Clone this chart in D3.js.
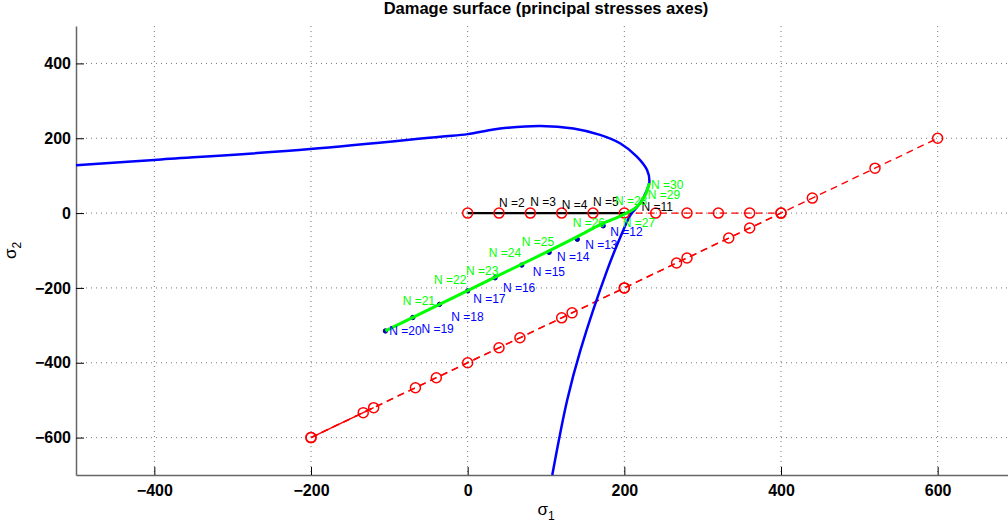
<!DOCTYPE html>
<html>
<head>
<meta charset="utf-8">
<script src="https://cdn.jsdelivr.net/npm/d3@7"></script>
<style>
  body { margin: 0; background: #fff; }
  svg { font-family: "Liberation Sans", Arial, Helvetica, sans-serif; }
</style>
</head>
<body>
<script>
// Tick values
const xTicks = [-400, -200, 0, 200, 400, 600];
const yTicks = [-600, -400, -200, 0, 200, 400];

// Damage surface (blue)
const surfSig1 = [-500, -400, -201, -35, 0, 29, 50, 93, 135, 169, 195, 216, 229, 232, 229, 220, 208, 195, 178, 144, 127, 108];
const surfSig2 = [128, 142, 171, 204, 211, 222, 228, 233, 226, 209, 186, 151, 115, 84, 62, 26, -5, -64, -153, -366, -500, -700];

// Loading paths (red, dashed)
const axisSig1 = [0, 40, 80, 120, 160, 200, 240, 280, 320, 360, 400];
const axisSig2 = [0, 0, 0, 0, 0, 0, 0, 0, 0, 0, 0];
const diagASig1 = [-200, -120, -40, 40, 120, 200, 280, 360, 440, 520, 600];
const diagASig2 = [-600, -520, -440, -360, -280, -200, -120, -40, 40, 120, 200];
const diagBSig1 = [-200, -133.3, -66.7, 0, 66.7, 133.3, 200, 266.7, 333.3, 400];
const diagBSig2 = [-600, -533.3, -466.7, -400, -333.3, -266.7, -200, -133.3, -66.7, 0];
const startSig1 = [-200, -120];
const startSig2 = [-600, -520];

// Stress history (black, then blue dots, then green)
const blackSig1 = [0, 40, 80, 120, 160, 200, 208];
const blackSig2 = [0, 0, 0, 0, 0, 0, 0];
const dotSig1 = [173, 140, 104, 69, 35, 0, -36, -70, -105];
const dotSig2 = [-34, -70, -105, -139, -173, -208, -244, -279, -315];
const greenSig1 = [-105, 0, 100, 140, 170, 195, 215, 226, 232];
const greenSig2 = [-315, -207, -105, -63, -30, -8, 15, 45, 80];

// Step labels
const blackLabels = ["N =2", "N =3", "N =4", "N =5", "N =11"];
const blackLabX = [40, 80, 120, 160, 222];
const blackLabY = [28, 29, 23, 29, 16];
const blueLabels = ["N =12", "N =13", "N =14", "N =15", "N =16", "N =17", "N =18", "N =19", "N =20"];
const blueLabX = [182, 150, 114, 83, 45, 7, -21, -59, -100];
const blueLabY = [-50, -85, -118, -158, -199, -229, -278, -308, -314];
const greenLabels = ["N =21", "N =22", "N =23", "N =24", "N =25", "N =26", "N =27", "N =28", "N =29", "N =30"];
const greenLabX = [-83, -43, -2, 27, 69, 134, 198, 188, 230, 234];
const greenLabY = [-235, -179, -154, -107, -78, -27, -27, 33, 50, 75];

// Dimensions
const W = 1008, H = 528;
const margin = { top: 26, right: -8, bottom: 53, left: 76 };
const width = W - margin.left - margin.right;
const height = H - margin.top - margin.bottom;

const svg = d3.select("body")
    .append("svg")
    .attr("width", W)
    .attr("height", H)
    .append("g")
    .attr("transform", `translate(${margin.left}, ${margin.top})`);

const x = d3.scaleLinear().domain([-500, 700]).range([0, width]);
const y = d3.scaleLinear().domain([-700, 500]).range([height, 0]);

// Dotted grid
svg.append("g").selectAll("line")
    .data(xTicks)
    .join("line")
    .attr("x1", d => x(d)).attr("x2", d => x(d))
    .attr("y1", 0).attr("y2", height)
    .attr("stroke", "#777").attr("stroke-dasharray", "1,4");
svg.append("g").selectAll("line")
    .data(yTicks)
    .join("line")
    .attr("y1", d => y(d)).attr("y2", d => y(d))
    .attr("x1", 0).attr("x2", width)
    .attr("stroke", "#777").attr("stroke-dasharray", "1,4");

// Axes
const xAxis = svg.append("g")
    .attr("transform", `translate(0, ${height})`)
    .call(d3.axisBottom(x).tickValues(xTicks).tickSizeInner(-8).tickSizeOuter(0).tickPadding(10)
        .tickFormat(d => d < 0 ? "\u2212" + Math.abs(d) : d));
const yAxis = svg.append("g")
    .call(d3.axisLeft(y).tickValues(yTicks).tickSizeInner(-8).tickSizeOuter(0).tickPadding(5)
        .tickFormat(d => d < 0 ? "\u2212" + Math.abs(d) : d));
[xAxis, yAxis].forEach(a => {
    a.select(".domain").attr("stroke", "#666").attr("stroke-width", 1.5);
    a.selectAll(".tick line").attr("stroke", "#000");
    a.selectAll(".tick text")
        .attr("fill", "#000")
        .style("font-size", "16px")
        .style("font-weight", "bold")
        .style("font-family", "'Liberation Sans', Arial, sans-serif");
});

const pts = (xs, ys) => xs.map((v, i) => [v, ys[i]]);
const straight = d3.line().x(d => x(d[0])).y(d => y(d[1]));
const smooth = d3.line().x(d => x(d[0])).y(d => y(d[1])).curve(d3.curveCatmullRom.alpha(0.5));

// Red loading paths
[[axisSig1, axisSig2], [diagASig1, diagASig2], [diagBSig1, diagBSig2]].forEach(([a, b]) => {
    svg.append("path")
        .datum(pts(a, b))
        .attr("fill", "none")
        .attr("stroke", "red")
        .attr("stroke-width", 1.4)
        .attr("stroke-dasharray", "7,5")
        .attr("d", straight);
});
svg.append("path")
    .datum(pts(startSig1, startSig2))
    .attr("fill", "none")
    .attr("stroke", "red")
    .attr("stroke-width", 1.4)
    .attr("d", straight);

// Damage surface
svg.append("path")
    .datum(pts(surfSig1, surfSig2))
    .attr("fill", "none")
    .attr("stroke", "#0000ff")
    .attr("stroke-width", 2.5)
    .attr("d", smooth);

// Black path
svg.append("path")
    .datum(pts(blackSig1, blackSig2))
    .attr("fill", "none")
    .attr("stroke", "#000")
    .attr("stroke-width", 2.4)
    .attr("d", straight);

// Red circle markers
const markers = pts(axisSig1, axisSig2).concat(pts(diagASig1, diagASig2), pts(diagBSig1, diagBSig2));
svg.append("g").selectAll("circle")
    .data(markers)
    .join("circle")
    .attr("cx", d => x(d[0]))
    .attr("cy", d => y(d[1]))
    .attr("r", 5)
    .attr("fill", "none")
    .attr("stroke", "red")
    .attr("stroke-width", 1.5);

// Blue dots
svg.append("g").selectAll("circle")
    .data(pts(dotSig1, dotSig2))
    .join("circle")
    .attr("cx", d => x(d[0]))
    .attr("cy", d => y(d[1]))
    .attr("r", 2.2)
    .attr("fill", "#0000cc")
    .attr("stroke", "#000099");

// Green path
svg.append("path")
    .datum(pts(greenSig1, greenSig2))
    .attr("fill", "none")
    .attr("stroke", "#00ff00")
    .attr("stroke-width", 3)
    .attr("d", smooth);

// Labels
function labels(texts, xs, ys, colour) {
    svg.append("g").selectAll("text")
        .data(texts)
        .join("text")
        .attr("x", (d, i) => x(xs[i]))
        .attr("y", (d, i) => y(ys[i]))
        .attr("dy", "0.35em")
        .attr("fill", colour)
        .style("font-size", "12px")
        .text(d => d);
}
labels(blackLabels, blackLabX, blackLabY, "#000");
labels(blueLabels, blueLabX, blueLabY, "#0000ff");
labels(greenLabels, greenLabX, greenLabY, "#00ff00");

// Title and axis labels
svg.append("text")
    .attr("x", (x(-500) + x(700)) / 2)
    .attr("y", -12)
    .attr("text-anchor", "middle")
    .style("font-size", "16.5px")
    .style("font-weight", "bold")
    .text("Damage surface (principal stresses axes)");

const xl = svg.append("text")
    .attr("x", x(100))
    .attr("y", height + 40)
    .attr("text-anchor", "middle")
    .style("font-size", "17px");
xl.append("tspan").text("σ");
xl.append("tspan").attr("dy", 5).style("font-size", "12px").text("1");

const yl = svg.append("text")
    .attr("transform", `translate(${-60}, ${y(-100)}) rotate(-90)`)
    .attr("text-anchor", "middle")
    .style("font-size", "17px");
yl.append("tspan").text("σ");
yl.append("tspan").attr("dy", 5).style("font-size", "12px").text("2");
</script>
</body>
</html>
